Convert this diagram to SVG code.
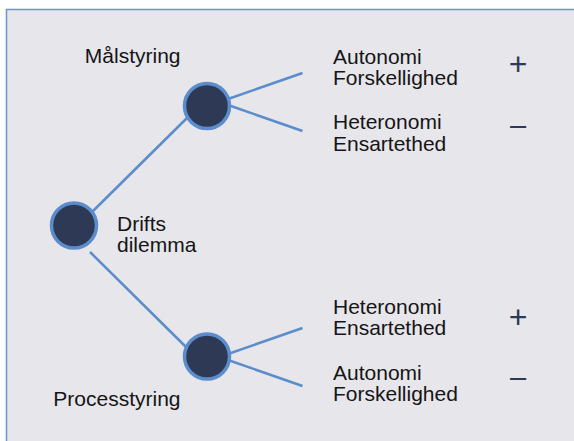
<svg xmlns="http://www.w3.org/2000/svg" width="574" height="441" viewBox="0 0 574 441">
<style>
.t{font-family:"Liberation Sans",Arial,sans-serif;font-size:21px;fill:#151515}
.p{font-family:"Liberation Sans",Arial,sans-serif;font-size:32px;fill:#2e3a55;text-anchor:middle}
.m{font-family:"Liberation Sans",Arial,sans-serif;font-size:29px;fill:#2e3a55;text-anchor:middle}
.node{fill:#2e3a55;stroke:#5b8ccb;stroke-width:3.5}
.edge{stroke:#5b8ccb;stroke-width:2.5;fill:none}
</style>
<rect x="0" y="0" width="574" height="441" fill="#ffffff"/>
<rect x="6.5" y="9.5" width="580" height="450" fill="#e7e6eb" stroke="#6a95cf" stroke-width="1.5"/>
<g id="connectors">
<line class="edge" x1="91" y1="213" x2="187" y2="118"/>
<line class="edge" x1="90" y1="252" x2="186" y2="347"/>
<line class="edge" x1="228" y1="99" x2="302.5" y2="73"/>
<line class="edge" x1="228" y1="105" x2="302.5" y2="131"/>
<line class="edge" x1="228" y1="354" x2="302.5" y2="328"/>
<line class="edge" x1="228" y1="360" x2="302.5" y2="386"/>
</g>
<g id="root">
<circle class="node" cx="74" cy="225.5" r="22.5"/>
<text class="t" x="117" y="231">Drifts</text>
<text class="t" x="117" y="252">dilemma</text>
</g>
<g id="malstyring">
<circle class="node" cx="207" cy="106" r="22.5"/>
<text class="t" x="180.5" y="62.5" text-anchor="end">Målstyring</text>
</g>
<g id="processtyring">
<circle class="node" cx="207" cy="356.5" r="22.5"/>
<text class="t" x="180.5" y="406" text-anchor="end">Processtyring</text>
</g>
<g id="m-plus">
<text class="t" x="333" y="63.5">Autonomi</text>
<text class="t" x="333" y="84.5">Forskellighed</text>
<text class="p" x="518" y="74.5">+</text>
</g>
<g id="m-minus">
<text class="t" x="333" y="129">Heteronomi</text>
<text class="t" x="333" y="151">Ensartethed</text>
<text class="m" x="518" y="134.5">–</text>
</g>
<g id="p-plus">
<text class="t" x="333" y="313.5">Heteronomi</text>
<text class="t" x="333" y="335">Ensartethed</text>
<text class="p" x="518" y="327.5">+</text>
</g>
<g id="p-minus">
<text class="t" x="333" y="380">Autonomi</text>
<text class="t" x="333" y="401">Forskellighed</text>
<text class="m" x="518" y="387">–</text>
</g>
</svg>
